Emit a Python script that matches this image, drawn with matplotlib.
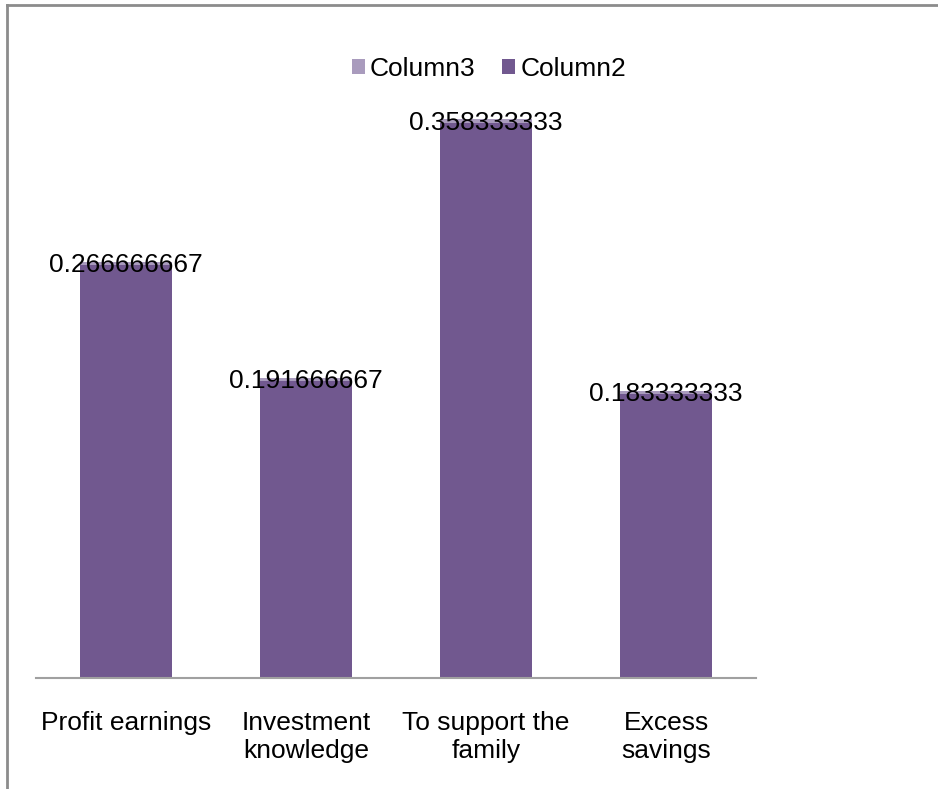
import matplotlib.pyplot as plt
from matplotlib.lines import Line2D
import numpy as np

plt.rcParams['font.family'] = ['Liberation Sans', 'DejaVu Sans']

categories = ['Profit earnings', 'Investment\nknowledge', 'To support the\nfamily', 'Excess\nsavings']
column2 = [0.266666667, 0.191666667, 0.358333333, 0.183333333]
column3 = [0.002, 0.002, 0.002, 0.002]
labels = ['0.266666667', '0.191666667', '0.358333333', '0.183333333']

col2_color = '#71588F'
col3_color = '#A99BBD'

fig = plt.figure(figsize=(9.38, 7.89), dpi=100)
ax = fig.add_axes([36 / 938, 1 - 678 / 789, 720 / 938, 620 / 789])

x = np.arange(len(categories))
width = 0.51
ax.bar(x, column2, width, color=col2_color, label='Column2', zorder=2)
ax.bar(x, column3, width, bottom=column2, color=col3_color, label='Column3', zorder=2)

# value labels sit centred on the bar tops
for xi, v, s in zip(x, column2, labels):
    ax.text(xi, v, s, ha='center', va='center', fontsize=19, color='black', zorder=3)

ax.set_xlim(-0.5, len(categories) - 0.5)
ax.set_ylim(0, 0.4)
ax.set_xticks(x)
ax.set_xticklabels(categories, fontsize=19, linespacing=1.2)
ax.tick_params(axis='x', length=0, pad=24)
ax.set_yticks([])
for side in ['left', 'right', 'top']:
    ax.spines[side].set_visible(False)
ax.spines['bottom'].set_color('#A0A0A0')
ax.spines['bottom'].set_linewidth(1.5)

handles, names = ax.get_legend_handles_labels()
fig.legend(handles[::-1], names[::-1], loc='center', bbox_to_anchor=(489 / 938, 1 - 69 / 789),
           ncol=2, frameon=False, fontsize=19, handlelength=0.5, handleheight=0.5,
           handletextpad=0.2, columnspacing=1.0)

# outer frame, only top and left edges show
fig.add_artist(Line2D([7 / 938, 1], [1 - 5 / 789, 1 - 5 / 789], color='#8C8C8C', lw=2))
fig.add_artist(Line2D([7 / 938, 7 / 938], [0, 1 - 5 / 789], color='#8C8C8C', lw=2))

fig.savefig('out.png', dpi=100)
